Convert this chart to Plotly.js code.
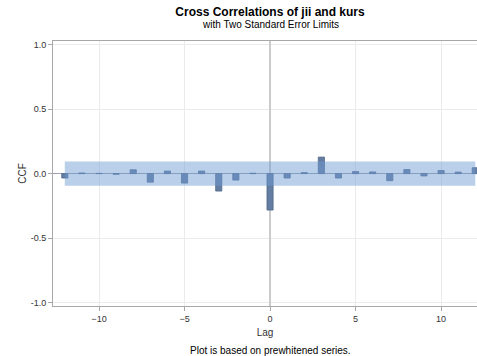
<!DOCTYPE html>
<html><head><meta charset="utf-8">
<script src="https://cdn.plot.ly/plotly-3.0.1.min.js"></script>
<style>html,body{margin:0;padding:0;background:#fff}#chart{width:477px;height:356px}</style>
</head><body><div id="chart"></div>
<script>
const lags = [-12,-11,-10,-9,-8,-7,-6,-5,-4,-3,-2,-1,0,1,2,3,4,5,6,7,8,9,10,11,12];
const ccf = [-0.034,0.005,0.002,-0.005,0.030,-0.066,0.020,-0.073,0.020,-0.135,-0.050,0.003,-0.282,-0.034,0.008,0.128,-0.034,0.016,0.013,-0.055,0.032,-0.018,0.024,0.012,0.046];
const upperLimit = lags.map(() => 0.094);
const lowerLimit = lags.map(() => -0.094);
const xTicks = [-10,-5,0,5,10];
const yTicks = [-1.0,-0.5,0.0,0.5,1.0];
const yTickText = ['-1.0','-0.5','0.0','0.5','1.0'];

const font = 'Liberation Sans, Arial, sans-serif';
const traces = [
  {x: lags, y: lowerLimit, type: 'scatter', mode: 'lines', line: {width: 0}, hoverinfo: 'skip', showlegend: false},
  {x: lags, y: upperLimit, type: 'scatter', mode: 'lines', line: {width: 0}, fill: 'tonexty', fillcolor: 'rgba(110,155,212,0.48)', hoverinfo: 'skip', showlegend: false},
  {x: lags, y: ccf, type: 'bar', width: 0.36, marker: {color: '#647ea3', line: {color: '#4f678a', width: 0.8}}, showlegend: false}
];
const layout = {
  width: 477, height: 356,
  margin: {l: 53, r: 0, t: 41, b: 50},
  paper_bgcolor: '#fff', plot_bgcolor: '#fff',
  font: {family: font, size: 9, color: '#333'},
  showlegend: false,
  title: {text: '<b>Cross Correlations of jii and kurs</b>', font: {family: font, size: 12, color: '#000'}, x: 270 / 477, xanchor: 'center', y: 0.966, yanchor: 'middle'},
  annotations: [
    {text: 'with Two Standard Error Limits', xref: 'paper', yref: 'paper', x: (270 - 53) / 424, y: (356 - 24 - 50) / 265, xanchor: 'center', yanchor: 'middle', showarrow: false, font: {family: font, size: 10, color: '#000'}},
    {text: 'Plot is based on prewhitened series.', xref: 'paper', yref: 'paper', x: (270 - 53) / 424, y: (356 - 350 - 50) / 265, xanchor: 'center', yanchor: 'middle', showarrow: false, font: {family: font, size: 10, color: '#000'}}
  ],
  xaxis: {
    range: [-12.69, 12.1], tickmode: 'array', tickvals: xTicks,
    showgrid: true, gridcolor: '#ebebeb', gridwidth: 1,
    zeroline: true, zerolinecolor: '#cbcbcb', zerolinewidth: 2,
    showline: true, linecolor: '#a8a8a8', linewidth: 1, mirror: true,
    ticks: 'outside', ticklen: 4, tickcolor: '#a8a8a8',
    tickfont: {family: font, size: 9, color: '#333'},
    title: {text: 'Lag', font: {family: font, size: 10, color: '#333'}, standoff: 6}
  },
  yaxis: {
    range: [-1.025, 1.027], tickmode: 'array', tickvals: yTicks, ticktext: yTickText,
    showgrid: true, gridcolor: '#ebebeb', gridwidth: 1,
    zeroline: true, zerolinecolor: '#9aa3b0', zerolinewidth: 1,
    showline: true, linecolor: '#a8a8a8', linewidth: 1, mirror: true,
    ticks: 'outside', ticklen: 4, tickcolor: '#a8a8a8',
    tickfont: {family: font, size: 9, color: '#333'},
    title: {text: 'CCF', font: {family: font, size: 10, color: '#333'}, standoff: 2}
  },
  bargap: 0
};
Plotly.newPlot('chart', traces, layout, {staticPlot: true, displayModeBar: false});
</script></body></html>
